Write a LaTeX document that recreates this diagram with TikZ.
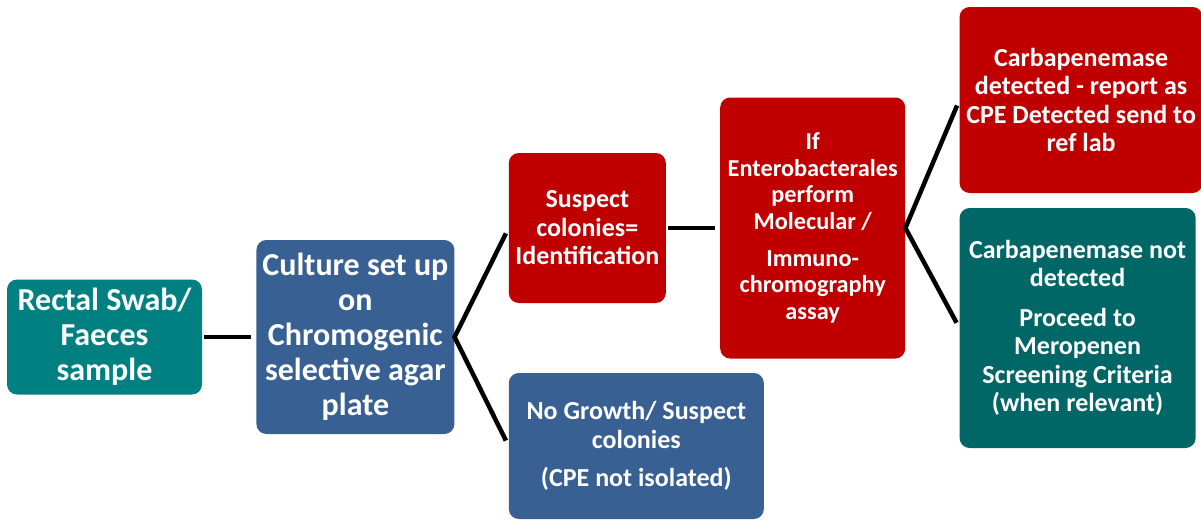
\documentclass[tikz,border=0pt]{standalone}
\usepackage{fontspec}
\setmainfont{Carlito}
\usetikzlibrary{positioning}
\definecolor{swabteal}{RGB}{0,128,128}
\definecolor{plateblue}{RGB}{56,96,146}
\definecolor{cpered}{RGB}{192,0,0}
\definecolor{darkteal}{RGB}{0,102,102}
\begin{document}
\begin{tikzpicture}[
  x=1pt, y=-1pt,
  node distance=54pt,
  every node/.style={rounded corners=10pt, align=center, text=white, inner sep=2pt},
  bigtext/.style={font=\fontsize{32}{35}\selectfont\bfseries},
  midtext/.style={font=\fontsize{26}{28.5}\selectfont\bfseries},
  smalltext/.style={font=\fontsize{24.3}{26.7}\selectfont\bfseries},
  link/.style={line width=4.5pt, shorten <=2pt, shorten >=5pt}
]
\useasboundingbox (0,0) rectangle (1201,520);
\node[bigtext, fill=swabteal, minimum width=195pt, minimum height=115pt] (swab) at (104.5,337) {Rectal Swab/\\Faeces\\sample};
\node[bigtext, fill=plateblue, minimum width=198pt, minimum height=194pt, right=of swab] (plate) {Culture set up\\on\\Chromogenic\\selective agar\\plate};
\node[midtext, fill=cpered, minimum width=157pt, minimum height=150pt, right=of plate, yshift=109pt] (suspect) {Suspect\\colonies=\\Identification};
\node[midtext, fill=plateblue, minimum width=255pt, minimum height=146pt, right=of plate, yshift=-109pt] (nogrowth) {No Growth/ Suspect\\colonies\\[10pt](CPE not isolated)};
\node[smalltext, fill=cpered, minimum width=185pt, minimum height=261pt, right=of suspect] (assay) {If\\Enterobacterales\\perform\\Molecular /\\[10pt]Immuno-\\chromography\\assay};
\node[midtext, fill=cpered, minimum width=243pt, minimum height=186pt, right=of assay, yshift=128pt] (detected) {Carbapenemase\\detected - report as\\CPE Detected send to\\ref lab};
\node[midtext, fill=darkteal, minimum width=236pt, minimum height=240pt, right=of assay, yshift=-100pt] (notdetected) {Carbapenemase not\\detected\\[11pt]Proceed to\\Meropenen\\Screening Criteria\\(when relevant)};
% connectors
\draw[link] (swab) -- (plate);
\draw[link, shorten <=6pt, shorten >=6pt] (suspect.west) -- (plate.east) -- (nogrowth.west);
\draw[link] (suspect) -- (assay);
\draw[link, shorten <=6pt, shorten >=6pt] (detected.west) -- (assay.east) -- (notdetected.west);
\end{tikzpicture}
\end{document}
